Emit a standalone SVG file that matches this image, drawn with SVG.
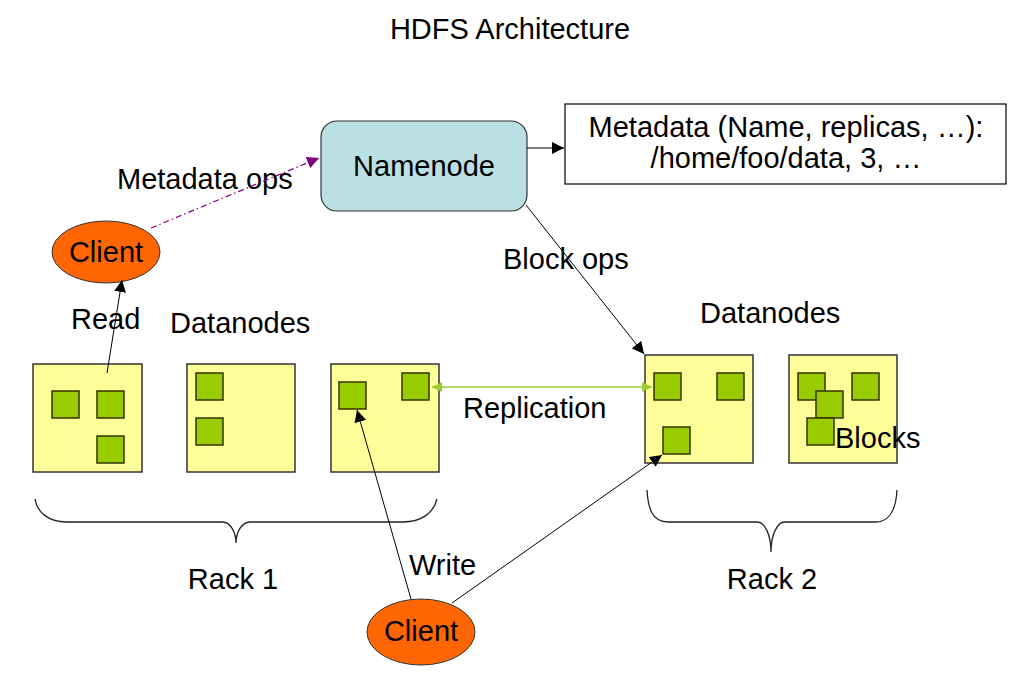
<svg xmlns="http://www.w3.org/2000/svg" width="1024" height="681" viewBox="0 0 1024 681">
<defs>
<marker id="ab" viewBox="0 0 10 10" refX="10" refY="5" markerWidth="12" markerHeight="12" markerUnits="userSpaceOnUse" orient="auto"><path d="M0,0 L10,5 L0,10 Z" fill="#000"/></marker>
<marker id="ap" viewBox="0 0 10 10" refX="10" refY="5" markerWidth="12" markerHeight="12" markerUnits="userSpaceOnUse" orient="auto"><path d="M0,0 L10,5 L0,10 Z" fill="#800080"/></marker>
<marker id="ag" viewBox="0 0 10 10" refX="10" refY="5" markerWidth="10" markerHeight="10" markerUnits="userSpaceOnUse" orient="auto-start-reverse"><path d="M0,0 L10,5 L0,10 Z" fill="#99cc33"/></marker>
</defs>
<style>
text{font-family:"Liberation Sans",Arial,sans-serif;font-size:29px;fill:#000}
.rack{fill:#ffff99;stroke:#333;stroke-width:1.5}
.blk{fill:#99cc00;stroke:#333300;stroke-width:1.5}
.client{fill:#ff6600;stroke:#333;stroke-width:1}
.brace{fill:none;stroke:#222;stroke-width:1.3}
.ln{fill:none;stroke:#000;stroke-width:1}
</style>
<rect width="1024" height="681" fill="#fff"/>
<text x="510" y="39" text-anchor="middle">HDFS Architecture</text>

<g id="namenode">
<rect x="321" y="121" width="206" height="90" rx="16" fill="#bbe0e3" stroke="#333" stroke-width="1.2"/>
<text x="424" y="176" text-anchor="middle">Namenode</text>
</g>
<g id="metadata">
<rect x="565" y="104" width="441" height="80" fill="#fff" stroke="#000" stroke-width="1.2"/>
<text x="786" y="137" text-anchor="middle">Metadata (Name, replicas, …):</text>
<text x="786" y="168" text-anchor="middle">/home/foo/data, 3, …</text>
</g>
<g id="client-read">
<ellipse cx="106" cy="252" rx="54" ry="31" class="client"/>
<text x="106" y="262" text-anchor="middle">Client</text>
</g>
<g id="client-write">
<ellipse cx="421" cy="632" rx="54" ry="33" class="client"/>
<text x="421" y="641" text-anchor="middle">Client</text>
</g>

<g id="datanode-1">
<rect x="33" y="364" width="109" height="108" class="rack"/>
<rect x="52" y="391" width="27" height="27" class="blk"/>
<rect x="97" y="391" width="27" height="27" class="blk"/>
<rect x="97" y="436" width="27" height="27" class="blk"/>
</g>
<g id="datanode-2">
<rect x="187" y="364" width="108" height="108" class="rack"/>
<rect x="196" y="373" width="27" height="27" class="blk"/>
<rect x="196" y="418" width="27" height="27" class="blk"/>
</g>
<g id="datanode-3">
<rect x="331" y="364" width="108" height="108" class="rack"/>
<rect x="339" y="382" width="27" height="27" class="blk"/>
<rect x="402" y="373" width="27" height="27" class="blk"/>
</g>
<g id="datanode-4">
<rect x="645" y="355" width="108" height="108" class="rack"/>
<rect x="654" y="373" width="27" height="27" class="blk"/>
<rect x="717" y="373" width="27" height="27" class="blk"/>
<rect x="663" y="427" width="27" height="27" class="blk"/>
</g>
<g id="datanode-5">
<rect x="789" y="355" width="108" height="108" class="rack"/>
<rect x="798" y="373" width="27" height="27" class="blk"/>
<rect x="852" y="373" width="27" height="27" class="blk"/>
<rect x="816" y="391" width="27" height="27" class="blk"/>
<rect x="807" y="418" width="27" height="27" class="blk"/>
<text x="835" y="448">Blocks</text>
</g>

<g id="rack1">
<path class="brace" d="M35,499 C37,512 48,522 67,522 L223,522 C230,522 236,532 236,543 C236,532 242,522 250,522 L403,522 C422,522 434,512 437,499"/>
<text x="233" y="589" text-anchor="middle">Rack 1</text>
</g>
<g id="rack2">
<path class="brace" d="M647,490 C648,508 652,522 668,522 L757,522 C765,522 771,535 771,552 C771,535 777,522 785,522 L876,522 C890,522 896,508 897,490"/>
<text x="772" y="589" text-anchor="middle">Rack 2</text>
</g>

<g id="labels">
<text x="117" y="189">Metadata ops</text>
<text x="71" y="329">Read</text>
<text x="170" y="333">Datanodes</text>
<text x="700" y="323">Datanodes</text>
<text x="503" y="269">Block ops</text>
<text x="463" y="418">Replication</text>
<text x="409" y="575">Write</text>
</g>

<g id="connectors">
<line x1="151" y1="228" x2="319" y2="158" stroke="#800080" stroke-width="1.2" stroke-dasharray="6,3,1.5,3" marker-end="url(#ap)"/>
<line x1="527" y1="148" x2="564" y2="148" class="ln" marker-end="url(#ab)"/>
<line x1="526" y1="205" x2="644" y2="354" class="ln" marker-end="url(#ab)"/>
<line x1="107" y1="373" x2="122" y2="280" class="ln" marker-end="url(#ab)"/>
<line x1="432" y1="387" x2="652" y2="387" stroke="#99cc33" stroke-width="1.5" marker-start="url(#ag)" marker-end="url(#ag)"/>
<line x1="411" y1="599" x2="357" y2="410" class="ln" marker-end="url(#ab)"/>
<line x1="452" y1="603" x2="662" y2="455" class="ln" marker-end="url(#ab)"/>
</g>
</svg>
